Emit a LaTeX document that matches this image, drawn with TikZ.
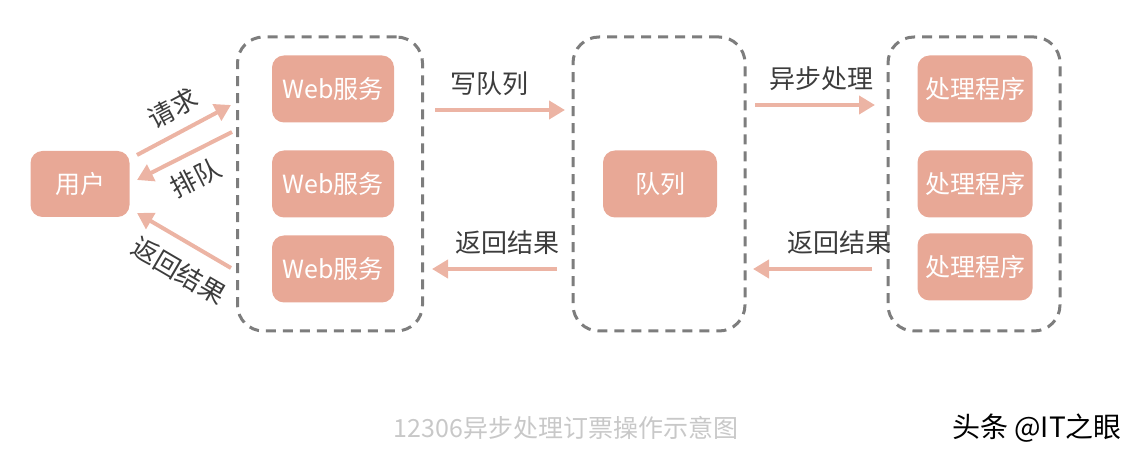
\documentclass[tikz,border=0pt]{standalone}
\usepackage{fontspec}
\setmainfont{Noto Sans CJK SC}
\usetikzlibrary{arrows.meta}
\definecolor{salmon}{RGB}{232,168,150}
\definecolor{pinkline}{RGB}{236,180,164}
\definecolor{dashgray}{RGB}{125,125,125}
\definecolor{inkgray}{RGB}{60,60,60}
\definecolor{capgray}{RGB}{200,200,200}
\begin{document}
\begin{tikzpicture}[x=0.5pt,y=-0.5pt,
  box/.style={rectangle,rounded corners=6pt,fill=salmon,text=white,font=\fontsize{12.5}{14}\selectfont,minimum height=33.5pt},
  group/.style={rectangle,rounded corners=13pt,draw=dashgray,line width=1.5pt,dash pattern=on 5pt off 3.5pt,minimum height=147pt,minimum width=86pt},
  flow/.style={draw=pinkline,line width=2pt,-{Triangle[width=9pt,length=8pt]}},
  lbl/.style={text=inkgray,font=\fontsize{13}{15}\selectfont}]
\useasboundingbox (0,0) rectangle (1142,459);
% containers
\node[group,minimum width=92.5pt] (web) at (330,184) {};
\node[group] (queue) at (659,184) {};
\node[group] (proc) at (974,184) {};
% boxes
\node[box,minimum width=49.5pt,minimum height=33pt] (user) at (80,184) {用户};
\foreach \n/\y in {1/89,2/184,3/269}{\node[box,minimum width=61pt] (web\n) at (333,\y) {Web服务};}
\node[box,minimum width=57pt] (q) at (660,184) {队列};
\foreach \n/\y in {1/89,2/184,3/267}{\node[box,minimum width=57.5pt] (proc\n) at (975,\y) {处理程序};}
% arrow ends
\coordinate (u1) at (137,155);\coordinate (w1) at (231,105);
\coordinate (w2) at (232,132);\coordinate (u2) at (137,180);
\coordinate (w3) at (231,268);\coordinate (u3) at (137,213);
\coordinate (a1) at (435,110);\coordinate (b1) at (565,110);
\coordinate (a2) at (557,269);\coordinate (b2) at (432,269);
\coordinate (c1) at (755,105);\coordinate (d1) at (875,105);
\coordinate (c2) at (872,269);\coordinate (d2) at (753,269);
% flows
\draw[flow] (u1) -- node[lbl,sloped,above=2pt]{请求} (w1);
\draw[flow] (w2) -- node[lbl,sloped,below=2pt]{排队} (u2);
\draw[flow] (w3) -- node[lbl,sloped,below=4pt,pos=0.4]{返回结果} (u3);
\draw[flow] (a1) -- node[lbl,above=3pt,pos=0.42]{写队列} (b1);
\draw[flow] (a2) -- node[lbl,above=3pt,pos=0.4]{返回结果} (b2);
\draw[flow] (c1) -- node[lbl,above=3pt,pos=0.55]{异步处理} (d1);
\draw[flow] (c2) -- node[lbl,above=3pt,pos=0.27]{返回结果} (d2);
% caption
\node[text=capgray,font=\fontsize{12.5}{14}\selectfont] (cap) at (566,428) {12306异步处理订票操作示意图};
\node[font=\fontsize{14}{16}\selectfont,anchor=east] (mark) at (1129,428) {头条 @IT之眼};
\end{tikzpicture}
\end{document}
